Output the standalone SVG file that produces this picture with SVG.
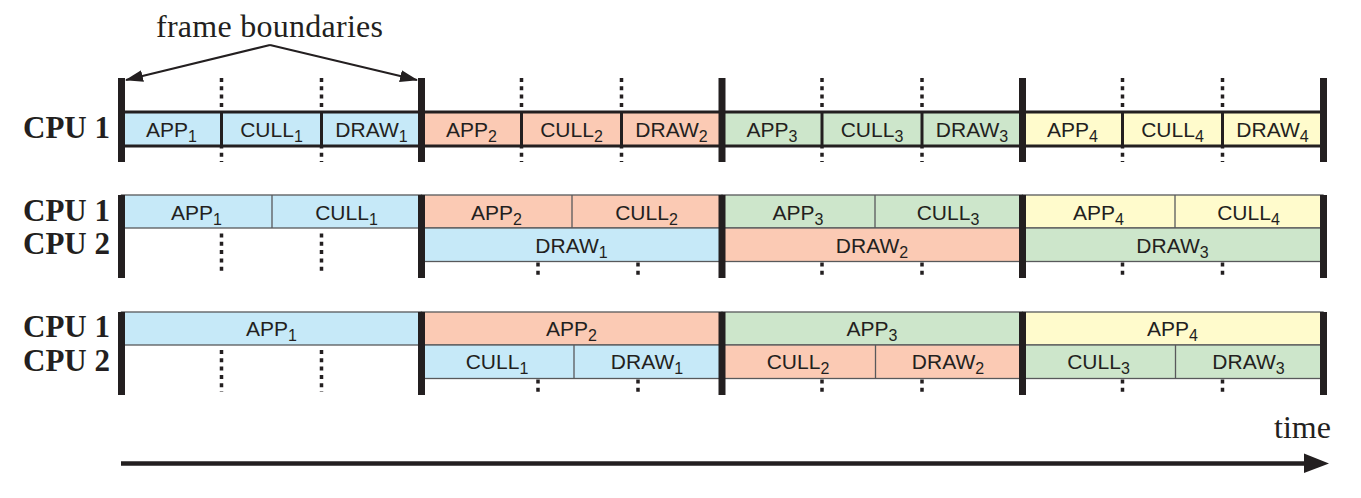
<svg xmlns="http://www.w3.org/2000/svg" width="1361" height="498" viewBox="0 0 1361 498">
<style>
.lbl{font-family:"Liberation Sans",Arial,sans-serif;font-size:21px;fill:#231f20;text-anchor:middle}
.sub{font-size:16px}
.cpu{font-family:"Liberation Serif","Times New Roman",serif;font-size:31px;font-weight:bold;fill:#231f20;text-anchor:end}
.ttl{font-family:"Liberation Serif","Times New Roman",serif;font-size:32px;fill:#231f20}
.bar{stroke:#231f20;stroke-width:7}
.dot{stroke:#231f20;stroke-width:3.5;stroke-dasharray:4 4.3}
.thick{stroke:#231f20;stroke-width:3}
.thin{stroke:#58595b;stroke-width:1.3}
.b{fill:#c6e9f8}.s{fill:#fbcab4}.g{fill:#cde6cb}.y{fill:#fffbcc}
</style>
<defs>
<marker id="ah" markerWidth="18" markerHeight="12" refX="17" refY="6" orient="auto" markerUnits="userSpaceOnUse">
<path d="M0,0 L18,6 L0,12 z" fill="#231f20"/>
</marker>
</defs>

<g id="title">
<text class="ttl" x="156" y="37" textLength="227">frame boundaries</text>
</g>

<g id="connectors">
<line x1="270" y1="45" x2="126" y2="80" stroke="#231f20" stroke-width="2" marker-end="url(#ah)"/>
<line x1="270" y1="45" x2="417" y2="80" stroke="#231f20" stroke-width="2" marker-end="url(#ah)"/>
<line x1="121" y1="463.5" x2="1306" y2="463.5" stroke="#231f20" stroke-width="4.5"/>
<polygon points="1304,453.5 1329,463.5 1304,473" fill="#231f20"/>
</g>

<g id="labels">
<text class="cpu" x="110" y="138">CPU 1</text>
<text class="cpu" x="110" y="221">CPU 1</text>
<text class="cpu" x="110" y="254">CPU 2</text>
<text class="cpu" x="110" y="337">CPU 1</text>
<text class="cpu" x="110" y="371">CPU 2</text>
<text class="ttl" x="1274" y="438">time</text>
</g>

<!-- Row 1 -->
<g id="row1-dots">
<line class="dot" x1="221.5" y1="78" x2="221.5" y2="162"/>
<line class="dot" x1="321.5" y1="78" x2="321.5" y2="162"/>
<line class="dot" x1="521.5" y1="78" x2="521.5" y2="162"/>
<line class="dot" x1="621.5" y1="78" x2="621.5" y2="162"/>
<line class="dot" x1="822" y1="78" x2="822" y2="162"/>
<line class="dot" x1="922" y1="78" x2="922" y2="162"/>
<line class="dot" x1="1122.5" y1="78" x2="1122.5" y2="162"/>
<line class="dot" x1="1222.5" y1="78" x2="1222.5" y2="162"/>
</g>
<g id="row1-frame1">
<rect class="b thick" x="121.5" y="112" width="300" height="34"/>
<line class="thick" x1="221.5" y1="112" x2="221.5" y2="146"/>
<line class="thick" x1="321.5" y1="112" x2="321.5" y2="146"/>
<text class="lbl" x="171.5" y="137">APP<tspan class="sub" dy="5">1</tspan></text>
<text class="lbl" x="271.5" y="137">CULL<tspan class="sub" dy="5">1</tspan></text>
<text class="lbl" x="371.5" y="137">DRAW<tspan class="sub" dy="5">1</tspan></text>
</g>
<g id="row1-frame2">
<rect class="s thick" x="421.5" y="112" width="300.5" height="34"/>
<line class="thick" x1="521.5" y1="112" x2="521.5" y2="146"/>
<line class="thick" x1="621.5" y1="112" x2="621.5" y2="146"/>
<text class="lbl" x="471.5" y="137">APP<tspan class="sub" dy="5">2</tspan></text>
<text class="lbl" x="571.5" y="137">CULL<tspan class="sub" dy="5">2</tspan></text>
<text class="lbl" x="671.5" y="137">DRAW<tspan class="sub" dy="5">2</tspan></text>
</g>
<g id="row1-frame3">
<rect class="g thick" x="722" y="112" width="300.5" height="34"/>
<line class="thick" x1="822" y1="112" x2="822" y2="146"/>
<line class="thick" x1="922" y1="112" x2="922" y2="146"/>
<text class="lbl" x="772" y="137">APP<tspan class="sub" dy="5">3</tspan></text>
<text class="lbl" x="872" y="137">CULL<tspan class="sub" dy="5">3</tspan></text>
<text class="lbl" x="972" y="137">DRAW<tspan class="sub" dy="5">3</tspan></text>
</g>
<g id="row1-frame4">
<rect class="y thick" x="1022.5" y="112" width="300.5" height="34"/>
<line class="thick" x1="1122.5" y1="112" x2="1122.5" y2="146"/>
<line class="thick" x1="1222.5" y1="112" x2="1222.5" y2="146"/>
<text class="lbl" x="1072.5" y="137">APP<tspan class="sub" dy="5">4</tspan></text>
<text class="lbl" x="1172.5" y="137">CULL<tspan class="sub" dy="5">4</tspan></text>
<text class="lbl" x="1272.5" y="137">DRAW<tspan class="sub" dy="5">4</tspan></text>
</g>

<!-- Row 2 -->
<g id="row2-dots">
<line class="dot" x1="221.5" y1="233.5" x2="221.5" y2="273"/>
<line class="dot" x1="321.5" y1="233.5" x2="321.5" y2="273"/>
<line class="dot" x1="538" y1="262.5" x2="538" y2="276"/>
<line class="dot" x1="638" y1="262.5" x2="638" y2="276"/>
<line class="dot" x1="822" y1="262.5" x2="822" y2="276"/>
<line class="dot" x1="922" y1="262.5" x2="922" y2="276"/>
<line class="dot" x1="1122.5" y1="262.5" x2="1122.5" y2="276"/>
<line class="dot" x1="1222.5" y1="262.5" x2="1222.5" y2="276"/>
</g>
<g id="row2-frame1">
<rect class="b thin" x="121.5" y="195" width="300" height="33"/>
<line class="thin" x1="272" y1="195" x2="272" y2="228"/>
<text class="lbl" x="196.5" y="220">APP<tspan class="sub" dy="5">1</tspan></text>
<text class="lbl" x="346.5" y="220">CULL<tspan class="sub" dy="5">1</tspan></text>
</g>
<g id="row2-frame2">
<rect class="s thin" x="421.5" y="195" width="300.5" height="33"/>
<line class="thin" x1="572" y1="195" x2="572" y2="228"/>
<rect class="b thin" x="421.5" y="228" width="300.5" height="33.5"/>
<text class="lbl" x="496.5" y="220">APP<tspan class="sub" dy="5">2</tspan></text>
<text class="lbl" x="646.5" y="220">CULL<tspan class="sub" dy="5">2</tspan></text>
<text class="lbl" x="571.5" y="253">DRAW<tspan class="sub" dy="5">1</tspan></text>
</g>
<g id="row2-frame3">
<rect class="g thin" x="722" y="195" width="300.5" height="33"/>
<line class="thin" x1="875" y1="195" x2="875" y2="228"/>
<rect class="s thin" x="722" y="228" width="300.5" height="33.5"/>
<text class="lbl" x="798" y="220">APP<tspan class="sub" dy="5">3</tspan></text>
<text class="lbl" x="948" y="220">CULL<tspan class="sub" dy="5">3</tspan></text>
<text class="lbl" x="872" y="253">DRAW<tspan class="sub" dy="5">2</tspan></text>
</g>
<g id="row2-frame4">
<rect class="y thin" x="1022.5" y="195" width="300.5" height="33"/>
<line class="thin" x1="1175" y1="195" x2="1175" y2="228"/>
<rect class="g thin" x="1022.5" y="228" width="300.5" height="33.5"/>
<text class="lbl" x="1098.5" y="220">APP<tspan class="sub" dy="5">4</tspan></text>
<text class="lbl" x="1248.5" y="220">CULL<tspan class="sub" dy="5">4</tspan></text>
<text class="lbl" x="1172.5" y="253">DRAW<tspan class="sub" dy="5">3</tspan></text>
</g>

<!-- Row 3 -->
<g id="row3-dots">
<line class="dot" x1="221.5" y1="350" x2="221.5" y2="392"/>
<line class="dot" x1="321.5" y1="350" x2="321.5" y2="392"/>
<line class="dot" x1="538" y1="379.5" x2="538" y2="393"/>
<line class="dot" x1="638" y1="379.5" x2="638" y2="393"/>
<line class="dot" x1="822" y1="379.5" x2="822" y2="393"/>
<line class="dot" x1="922" y1="379.5" x2="922" y2="393"/>
<line class="dot" x1="1122.5" y1="379.5" x2="1122.5" y2="393"/>
<line class="dot" x1="1222.5" y1="379.5" x2="1222.5" y2="393"/>
</g>
<g id="row3-frame1">
<rect class="b thin" x="121.5" y="312" width="300" height="33"/>
<text class="lbl" x="271.5" y="336">APP<tspan class="sub" dy="5">1</tspan></text>
</g>
<g id="row3-frame2">
<rect class="s thin" x="421.5" y="312" width="300.5" height="33"/>
<rect class="b thin" x="421.5" y="345" width="300.5" height="33.5"/>
<line class="thin" x1="574" y1="345" x2="574" y2="378.5"/>
<text class="lbl" x="571.5" y="336">APP<tspan class="sub" dy="5">2</tspan></text>
<text class="lbl" x="497" y="369">CULL<tspan class="sub" dy="5">1</tspan></text>
<text class="lbl" x="647" y="369">DRAW<tspan class="sub" dy="5">1</tspan></text>
</g>
<g id="row3-frame3">
<rect class="g thin" x="722" y="312" width="300.5" height="33"/>
<rect class="s thin" x="722" y="345" width="300.5" height="33.5"/>
<line class="thin" x1="875.5" y1="345" x2="875.5" y2="378.5"/>
<text class="lbl" x="872" y="336">APP<tspan class="sub" dy="5">3</tspan></text>
<text class="lbl" x="798" y="369">CULL<tspan class="sub" dy="5">2</tspan></text>
<text class="lbl" x="948" y="369">DRAW<tspan class="sub" dy="5">2</tspan></text>
</g>
<g id="row3-frame4">
<rect class="y thin" x="1022.5" y="312" width="300.5" height="33"/>
<rect class="g thin" x="1022.5" y="345" width="300.5" height="33.5"/>
<line class="thin" x1="1175.5" y1="345" x2="1175.5" y2="378.5"/>
<text class="lbl" x="1172.5" y="336">APP<tspan class="sub" dy="5">4</tspan></text>
<text class="lbl" x="1098.5" y="369">CULL<tspan class="sub" dy="5">3</tspan></text>
<text class="lbl" x="1248.5" y="369">DRAW<tspan class="sub" dy="5">3</tspan></text>
</g>

<g id="frame-boundaries">
<line class="bar" x1="121.5" y1="78" x2="121.5" y2="162"/>
<line class="bar" x1="421.5" y1="78" x2="421.5" y2="162"/>
<line class="bar" x1="722" y1="78" x2="722" y2="162"/>
<line class="bar" x1="1022.5" y1="78" x2="1022.5" y2="162"/>
<line class="bar" x1="1323.5" y1="78" x2="1323.5" y2="162"/>
<line class="bar" x1="121.5" y1="195" x2="121.5" y2="278"/>
<line class="bar" x1="421.5" y1="195" x2="421.5" y2="278"/>
<line class="bar" x1="722" y1="195" x2="722" y2="278"/>
<line class="bar" x1="1022.5" y1="195" x2="1022.5" y2="278"/>
<line class="bar" x1="1323.5" y1="195" x2="1323.5" y2="278"/>
<line class="bar" x1="121.5" y1="312" x2="121.5" y2="395"/>
<line class="bar" x1="421.5" y1="312" x2="421.5" y2="395"/>
<line class="bar" x1="722" y1="312" x2="722" y2="395"/>
<line class="bar" x1="1022.5" y1="312" x2="1022.5" y2="395"/>
<line class="bar" x1="1323.5" y1="312" x2="1323.5" y2="395"/>
</g>
</svg>
